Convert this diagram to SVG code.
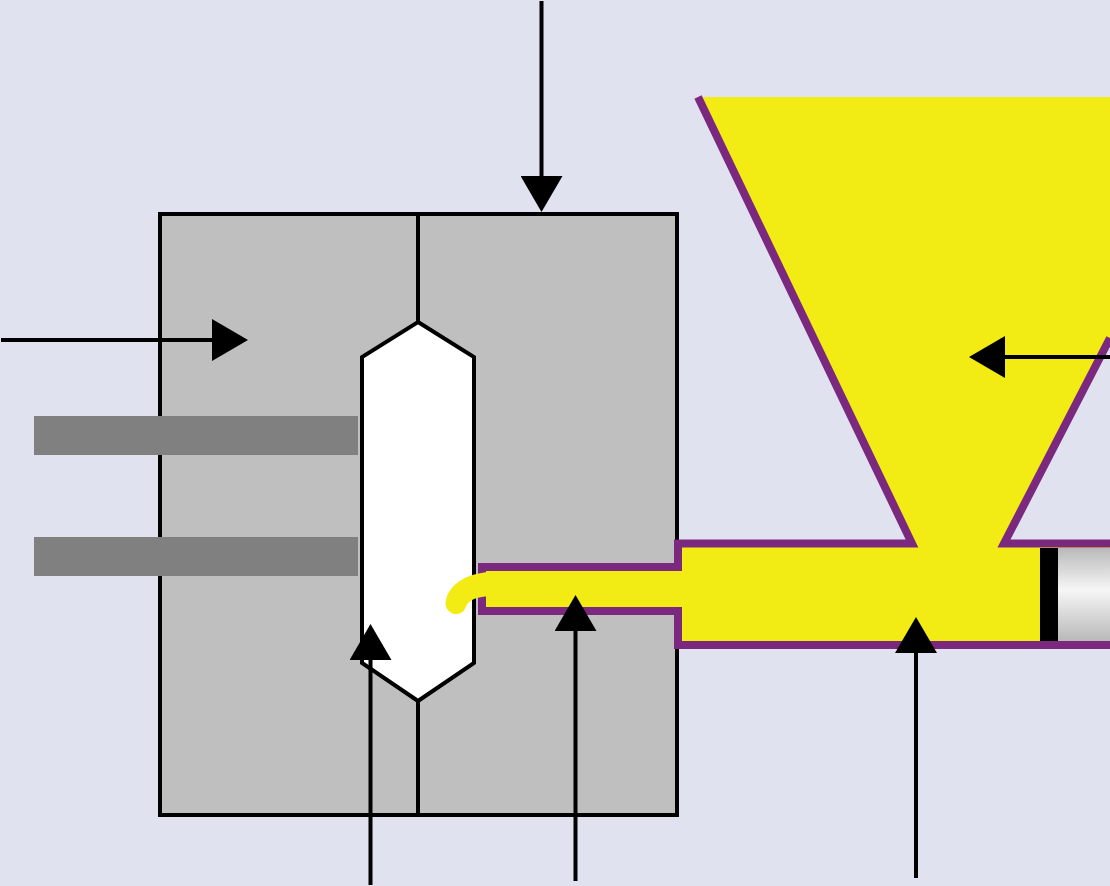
<svg xmlns="http://www.w3.org/2000/svg" width="1110" height="886" viewBox="0 0 1110 886">
<defs>
<linearGradient id="rod" x1="0" y1="0" x2="0" y2="1">
<stop offset="0" stop-color="#b9b9b9"/>
<stop offset="0.45" stop-color="#f6f6f6"/>
<stop offset="1" stop-color="#b9b9b9"/>
</linearGradient>
<marker id="arrow" markerUnits="userSpaceOnUse" markerWidth="36" markerHeight="42" refX="1" refY="21" orient="auto">
<path d="M0 0L36 21L0 42Z" fill="#000"/>
</marker>
</defs>
<style>
.ln{fill:none;stroke:#000;stroke-width:4}
.wall{fill:none;stroke:#7b287f;stroke-width:8;stroke-linejoin:miter}
.bar{fill:#808080}
.melt{fill:#f3ec14}
</style>
<rect id="background" width="1110" height="886" fill="#e0e2f0"/>
<g id="mold">
<rect x="160" y="214" width="517" height="601" fill="#bfbfbf" stroke="#000" stroke-width="4"/>
<path class="ln" d="M418 212V322M418 701V815"/>
</g>
<g id="cavity">
<path d="M418 322L474 357V663L418 701L362 663V357Z" fill="#fff" stroke="#000" stroke-width="4"/>
</g>
<g id="cooling-channels">
<rect class="bar" x="34" y="416" width="324" height="39"/>
<rect class="bar" x="34" y="537" width="324" height="39"/>
</g>
<g id="hopper-and-barrel">
<path class="melt" d="M700 97H1110V338L1004 544H1110V645H678V611H482V567H678V544H912Z"/>
<path class="wall" d="M698 97L912 543.500H678V567H482V611H678V645H1110"/>
<path class="wall" d="M1110 338L1004 543.500H1110"/>
<path class="melt" d="M490 572C466 573 449 585 446 600A10.500 10.500 0 0 0 466 607C468 600 476 597 490 596Z"/>
</g>
<g id="plunger">
<rect x="1040" y="548" width="18" height="93" fill="#000"/>
<rect x="1058" y="548" width="52" height="93" fill="url(#rod)"/>
</g>
<g id="connectors">
<path class="ln" d="M541.500 1V177" marker-end="url(#arrow)"/>
<path class="ln" d="M1 340H213" marker-end="url(#arrow)"/>
<path class="ln" d="M1110 357H1004" marker-end="url(#arrow)"/>
<path class="ln" d="M370.500 885V659" marker-end="url(#arrow)"/>
<path class="ln" d="M575.500 881V630" marker-end="url(#arrow)"/>
<path class="ln" d="M916 878V652" marker-end="url(#arrow)"/>
</g>
</svg>
